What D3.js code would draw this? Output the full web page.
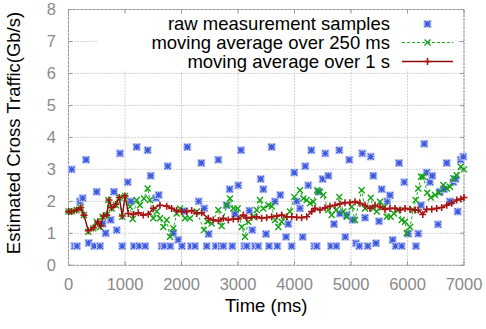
<!DOCTYPE html>
<html lang="en">
<head>
  <meta charset="UTF-8">
  <title>Estimated Cross Traffic</title>
  <style>
    body { margin: 0; padding: 0; background: #ffffff; }
    svg { display: block; font-family: "Liberation Sans", Arial, sans-serif; }
  </style>
</head>
<body>
<div id="chart"></div>
<script src="https://d3js.org/d3.v7.min.js"></script>
<script>
  // raw measurement samples
  const rawTime = [56, 106, 150, 204, 251, 310, 357, 457, 499, 558, 605, 658, 747, 805, 853, 912, 952, 1048, 1106, 1159,
    1207, 1253, 1358, 1401, 1455, 1549, 1596, 1650, 1696, 1756, 1802, 1855, 1943, 2009, 2050, 2103, 2168, 2239, 2304, 2351,
    2404, 2446, 2480, 2605, 2652, 2699, 2740, 2800, 2853, 2899, 2947, 3005, 3053, 3112, 3154, 3200, 3253, 3301, 3359, 3402,
    3448, 3496, 3549, 3596, 3655, 3696, 3749, 3850, 3890, 3950, 3996, 4039, 4097, 4145, 4191, 4244, 4297, 4350, 4393, 4421,
    4499, 4545, 4599, 4646, 4699, 4740, 4793, 4805, 4899, 4924, 4970, 5030, 5088, 5147, 5200, 5248, 5296, 5349, 5395, 5442,
    5496, 5543, 5642, 5690, 5738, 5791, 5850, 5897, 5943, 6014, 6150, 6191, 6239, 6297, 6340, 6398, 6439, 6540, 6575, 6646,
    6694, 6752, 6811, 6850, 6888, 6942, 6988];
  const rawValue = [3.0, 0.6, 0.6, 2.0, 2.1, 3.3, 0.7, 0.6, 2.3, 0.6, 1.3, 1.0, 1.42, 2.3, 1.1, 3.5, 0.6, 2.6, 2.0, 0.6,
    3.7, 0.6, 0.6, 3.6, 2.8, 2.1, 2.2, 0.6, 0.6, 3.1, 0.6, 1.0, 0.8, 0.6, 1.7, 3.7, 0.6, 0.6, 2.0, 3.2,
    1.78, 0.6, 0.98, 0.6, 3.3, 0.6, 0.6, 1.88, 2.38, 0.6, 1.6, 2.5, 3.6, 0.6, 0.6, 1.71, 1.1, 0.6, 0.6, 2.7,
    2.38, 0.98, 0.6, 3.7, 2.0, 0.6, 2.2, 0.89, 1.29, 0.6, 2.9, 2.0, 1.78, 0.89, 3.1, 2.5, 3.6, 0.6, 0.6, 2.3,
    2.7, 3.5, 2.8, 0.6, 1.29, 0.6, 3.6, 1.62, 0.89, 1.57, 3.3, 1.42, 0.69, 0.6, 3.5, 1.49, 0.6, 3.4, 2.8, 0.69,
    1.38, 2.38, 2.0, 2.19, 0.79, 0.6, 3.2, 0.6, 2.6, 0.99, 0.6, 0.99, 1.88, 3.8, 2.9, 2.6, 2.8, 1.28, 2.3, 2.38,
    3.2, 2.0, 2.6, 2.7, 1.68, 3.3, 3.4];

  // moving average over 250 ms
  const avg250Time = [0, 57, 145, 216, 274, 350, 439, 499, 558, 605, 676, 705, 764, 841, 899, 952, 1000, 1088, 1136, 1207,
    1265, 1336, 1401, 1442, 1501, 1561, 1619, 1678, 1738, 1796, 1855, 1915, 1973, 2062, 2150, 2269, 2398, 2457, 2534, 2652,
    2711, 2800, 2858, 2917, 2994, 3066, 3124, 3183, 3271, 3331, 3389, 3448, 3537, 3596, 3655, 3714, 3773, 3832, 3920, 3996,
    4097, 4156, 4216, 4274, 4333, 4404, 4451, 4510, 4599, 4658, 4735, 4793, 4864, 4924, 5012, 5071, 5189, 5248, 5349, 5395,
    5455, 5513, 5589, 5632, 5703, 5761, 5837, 5897, 5956, 5986, 6044, 6103, 6145, 6191, 6239, 6280, 6350, 6411, 6487, 6558,
    6634, 6694, 6752, 6811, 6871, 6942, 7000];
  const avg250Value = [1.68, 1.68, 1.73, 1.8, 1.57, 1.05, 1.16, 1.36, 1.2, 1.52, 1.57, 2.04, 1.78, 1.88, 2.11, 1.52, 2.17, 1.83, 1.45, 2.04,
    1.88, 2.09, 2.4, 2.04, 1.47, 1.68, 1.47, 1.2, 1.42, 0.89, 1.16, 1.62, 1.78, 1.47, 1.47, 1.68, 1.1, 1.38, 1.31, 1.73,
    1.23, 1.88, 2.09, 1.78, 1.78, 1.2, 0.89, 1.36, 1.52, 1.73, 2.04, 1.78, 1.88, 1.85, 1.42, 1.2, 1.36, 1.52, 1.68, 2.14,
    2.35, 2.09, 2.04, 1.94, 1.99, 2.35, 2.3, 2.2, 1.73, 1.57, 1.73, 2.14, 1.68, 1.52, 1.83, 1.42, 2.35, 1.78, 2.11, 1.78,
    1.68, 1.99, 1.83, 1.52, 1.52, 1.62, 1.73, 1.42, 1.36, 1.0, 1.2, 1.73, 2.04, 2.4, 2.77, 2.77, 2.27, 2.12, 2.2, 2.27,
    2.51, 2.4, 2.46, 2.72, 2.82, 3.08, 3.0];

  // moving average over 1 s
  const avg1sTime = [0, 57, 145, 216, 274, 350, 439, 517, 570, 616, 676, 717, 764, 835, 899, 952, 1000, 1059, 1147, 1235,
    1324, 1412, 1501, 1619, 1738, 1826, 1915, 2003, 2092, 2180, 2269, 2357, 2475, 2563, 2652, 2740, 2829, 2917, 3005, 3094,
    3154, 3242, 3331, 3419, 3508, 3596, 3685, 3773, 3862, 3950, 4039, 4127, 4216, 4304, 4363, 4451, 4540, 4628, 4717, 4805,
    4894, 4982, 5071, 5159, 5248, 5336, 5425, 5513, 5602, 5690, 5779, 5867, 5956, 6044, 6133, 6191, 6270, 6340, 6429, 6517,
    6605, 6694, 6782, 6871, 6942, 7000];
  const avg1sValue = [1.68, 1.68, 1.73, 1.8, 1.57, 1.08, 1.17, 1.36, 1.23, 1.54, 1.57, 2.04, 1.8, 1.9, 2.12, 1.54, 2.17, 1.62, 1.59, 1.64,
    1.57, 1.6, 1.78, 1.88, 1.85, 1.78, 1.71, 1.68, 1.68, 1.71, 1.62, 1.64, 1.47, 1.42, 1.39, 1.47, 1.42, 1.45, 1.45, 1.57,
    1.47, 1.5, 1.52, 1.47, 1.49, 1.52, 1.54, 1.57, 1.52, 1.52, 1.5, 1.49, 1.52, 1.68, 1.78, 1.73, 1.8, 1.85, 1.88, 1.92,
    1.96, 1.96, 1.99, 1.94, 1.88, 1.78, 1.88, 1.83, 1.75, 1.78, 1.78, 1.73, 1.78, 1.75, 1.73, 1.73, 1.59, 1.75, 1.75, 1.78,
    1.81, 1.88, 1.94, 2.04, 2.07, 2.12];

  const xTicks = [0, 1000, 2000, 3000, 4000, 5000, 6000, 7000];
  const yTicks = [0, 1, 2, 3, 4, 5, 6, 7, 8];
  const legendLabels = ["raw measurement samples", "moving average over 250 ms", "moving average over 1 s"];

  const width = 486;
  const height = 329;
  const plot = { left: 68.5, right: 464, top: 9.5, bottom: 265.3 };

  const svg = d3.select("#chart").append("svg")
    .attr("width", width)
    .attr("height", height);

  const x = d3.scaleLinear().domain([0, 7000]).range([plot.left, plot.right]);
  const y = d3.scaleLinear().domain([0, 8]).range([plot.bottom, plot.top]);

  const gridColor = "#a8a8a8";

  // grid
  svg.append("g").selectAll("line").data(xTicks).join("line")
    .attr("x1", d => x(d)).attr("x2", d => x(d))
    .attr("y1", plot.top).attr("y2", plot.bottom)
    .attr("stroke", gridColor).attr("stroke-width", 1).attr("stroke-dasharray", "1,2");
  svg.append("g").selectAll("line").data(yTicks).join("line")
    .attr("x1", plot.left).attr("x2", plot.right)
    .attr("y1", d => y(d)).attr("y2", d => y(d))
    .attr("stroke", gridColor).attr("stroke-width", 1).attr("stroke-dasharray", "1,2");

  // legend background hides the grid
  svg.append("rect")
    .attr("x", 97).attr("y", 13).attr("width", 360).attr("height", 57)
    .attr("fill", "#ffffff");

  // border and ticks
  svg.append("rect")
    .attr("x", plot.left).attr("y", plot.top)
    .attr("width", plot.right - plot.left).attr("height", plot.bottom - plot.top)
    .attr("fill", "none").attr("stroke", "#999").attr("stroke-dasharray", "3,1");

  const tickLen = 4;
  const ticks = svg.append("g").attr("stroke", "#999").attr("stroke-width", 1);
  xTicks.forEach(t => {
    ticks.append("line").attr("x1", x(t)).attr("x2", x(t)).attr("y1", plot.bottom).attr("y2", plot.bottom - tickLen);
    ticks.append("line").attr("x1", x(t)).attr("x2", x(t)).attr("y1", plot.top).attr("y2", plot.top + tickLen);
  });
  yTicks.forEach(v => {
    ticks.append("line").attr("x1", plot.left).attr("x2", plot.left + tickLen).attr("y1", y(v)).attr("y2", y(v));
    ticks.append("line").attr("x1", plot.right).attr("x2", plot.right - tickLen).attr("y1", y(v)).attr("y2", y(v));
  });

  // tick labels
  svg.append("g").selectAll("text").data(xTicks).join("text")
    .attr("x", d => x(d)).attr("y", 290)
    .attr("text-anchor", "middle")
    .attr("font-size", 16.5).attr("fill", "#8a8a8a")
    .text(d => d);
  svg.append("g").selectAll("text").data(yTicks).join("text")
    .attr("x", 56).attr("y", d => y(d)).attr("dy", "0.36em")
    .attr("text-anchor", "end")
    .attr("font-size", 16.5).attr("fill", "#8a8a8a")
    .text(d => d);

  // axis titles
  svg.append("text")
    .attr("x", (plot.left + plot.right) / 2).attr("y", 312)
    .attr("text-anchor", "middle").attr("font-size", 18.5).attr("fill", "#000")
    .text("Time (ms)");
  svg.append("text")
    .attr("transform", "translate(20,133) rotate(-90)")
    .attr("text-anchor", "middle").attr("font-size", 18.5).attr("fill", "#000")
    .text("Estimated Cross Traffic(Gb/s)");

  // marker helpers
  function starMarker(g, cx, cy) {
    const s = 3;
    g.append("rect").attr("x", cx - 4).attr("y", cy - 4).attr("width", 8).attr("height", 8)
      .attr("fill", "#c3cbf3");
    g.append("path")
      .attr("d", `M${cx - s},${cy}H${cx + s}M${cx},${cy - s}V${cy + s}M${cx - s},${cy - s}L${cx + s},${cy + s}M${cx - s},${cy + s}L${cx + s},${cy - s}`)
      .attr("stroke", "#3f5ae0").attr("stroke-width", 1.3).attr("fill", "none");
  }
  function crossMarker(g, cx, cy) {
    const s = 3;
    g.append("path")
      .attr("d", `M${cx - s},${cy - s}L${cx + s},${cy + s}M${cx - s},${cy + s}L${cx + s},${cy - s}`)
      .attr("stroke", "#12a312").attr("stroke-width", 1.4).attr("fill", "none");
  }
  function plusMarker(g, cx, cy) {
    const s = 3.5;
    g.append("path")
      .attr("d", `M${cx - s},${cy}H${cx + s}M${cx},${cy - s}V${cy + s}`)
      .attr("stroke", "#a81414").attr("stroke-width", 1.6).attr("fill", "none");
  }

  // raw samples
  const rawG = svg.append("g");
  rawTime.forEach((t, i) => starMarker(rawG, x(t), y(rawValue[i])));

  // 250 ms average
  const avg250 = avg250Time.map((t, i) => [t, avg250Value[i]]);
  const line = d3.line().x(d => x(d[0])).y(d => y(d[1]));
  svg.append("path").datum(avg250)
    .attr("d", line).attr("fill", "none")
    .attr("stroke", "#22b022").attr("stroke-width", 1).attr("stroke-dasharray", "3,2");
  const g250 = svg.append("g");
  avg250.forEach(d => crossMarker(g250, x(d[0]), y(d[1])));

  // 1 s average
  const avg1s = avg1sTime.map((t, i) => [t, avg1sValue[i]]);
  svg.append("path").datum(avg1s)
    .attr("d", line).attr("fill", "none")
    .attr("stroke", "#8b0a0a").attr("stroke-width", 1.4);
  const g1s = svg.append("g");
  avg1s.forEach(d => plusMarker(g1s, x(d[0]), y(d[1])));

  // legend
  const legendRows = [24, 42.5, 61.5];
  const legend = svg.append("g");
  legendLabels.forEach((label, i) => {
    legend.append("text")
      .attr("x", 390).attr("y", legendRows[i] + 6)
      .attr("text-anchor", "end").attr("font-size", 18.5).attr("fill", "#000")
      .text(label);
  });
  starMarker(legend, 427.5, legendRows[0]);
  legend.append("line").attr("x1", 402).attr("x2", 453).attr("y1", legendRows[1]).attr("y2", legendRows[1])
    .attr("stroke", "#22b022").attr("stroke-width", 1).attr("stroke-dasharray", "3,2");
  crossMarker(legend, 427.5, legendRows[1]);
  legend.append("line").attr("x1", 402).attr("x2", 453).attr("y1", legendRows[2]).attr("y2", legendRows[2])
    .attr("stroke", "#8b0a0a").attr("stroke-width", 1.4);
  plusMarker(legend, 427.5, legendRows[2]);
</script>
</body>
</html>
